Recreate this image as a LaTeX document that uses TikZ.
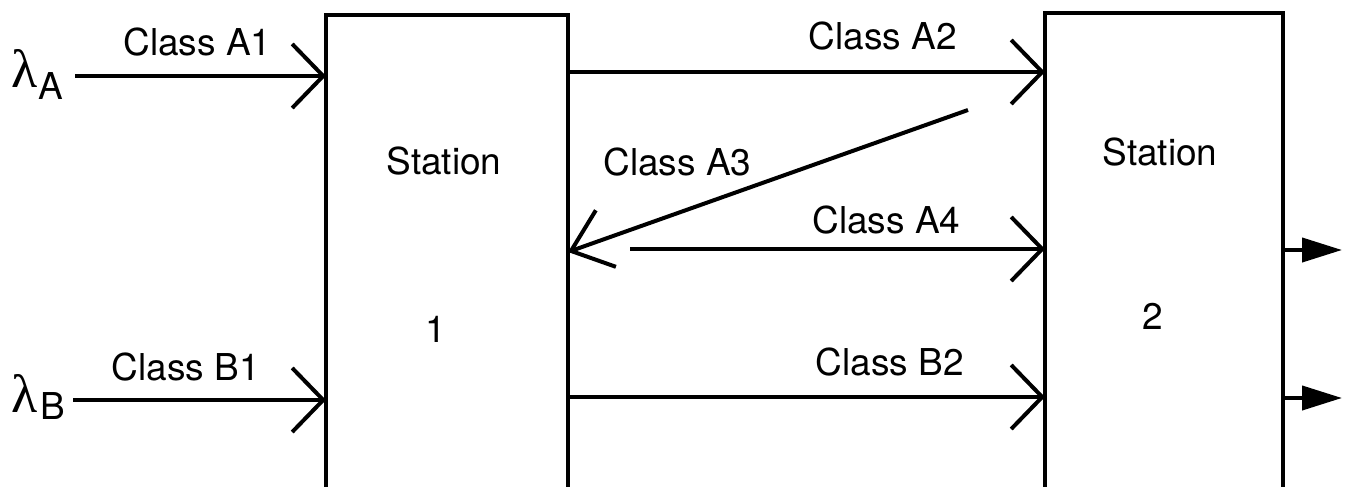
\documentclass[tikz,border=0pt]{standalone}
\usepackage{fontspec}
\setmainfont{TeX Gyre Heros}
\newfontfamily\rategreek{Liberation Serif}
\usetikzlibrary{arrows.meta}
\begin{document}
\begin{tikzpicture}[x=1pt,y=-1pt,
  line width=4pt,
  station/.style={draw, line width=3.4pt, inner sep=0pt, outer sep=0pt},
  lbl/.style={anchor=base, inner sep=0pt, font=\fontsize{37}{40}\selectfont},
  rate/.style={anchor=base west, inner sep=0pt, font=\fontsize{37}{40}\selectfont},
  feed/.style={-{Straight Barb[length=31pt,width=64pt]}},
  ret/.style={-{Straight Barb[length=37pt,width=60pt]}},
  leave/.style={-{Triangle[length=40pt,width=24pt]}}]
\useasboundingbox (0,0) rectangle (1347,487);
\clip (0,0) rectangle (1347,487);

% the two stations
\node[station, minimum width=242pt, minimum height=475pt] (s1) at (447,252.5) {};
\node[station, minimum width=238pt, minimum height=477pt] (s2) at (1164,251.5) {};

% levels and free ends of the flows
\coordinate (yA2) at (0,72);
\coordinate (yA3) at (0,252);
\coordinate (yB2) at (0,397);
\coordinate (inA) at (75,76);
\coordinate (inB) at (73,400);
\coordinate (a3from) at (968,110);
\coordinate (a4from) at (630,249);
\coordinate (outA) at (1342,250);
\coordinate (outB) at (1342,398);

% flows
\draw[feed] (inA) -- (inA -| s1.west);
\draw[feed] (inB) -- (inB -| s1.west);
\draw[feed] (s1.east |- yA2) -- (s2.west |- yA2);
\draw[ret] (a3from) -- (s1.east |- yA3);
\draw[feed] (a4from) -- (a4from -| s2.west);
\draw[feed] (s1.east |- yB2) -- (s2.west |- yB2);
\draw[leave] (s2.east |- outA) -- (outA);
\draw[leave] (s2.east |- outB) -- (outB);

% arrival rates
\node[rate] (lamA) at (9,88) {{\rategreek\fontsize{54}{56}\selectfont λ}\kern1pt\raisebox{-12pt}{A}};
\node[rate] (lamB) at (9,412) {{\rategreek\fontsize{54}{56}\selectfont λ}\kern3pt\raisebox{-7pt}{B}};

% class labels
\node[lbl] (cA1) at (197.5,56) {Class A1};
\node[lbl] (cB1) at (186,380) {Class B1};
\node[lbl] (cA2) at (883,50) {Class A2};
\node[lbl] (cA3) at (677.5,175) {Class A3};
\node[lbl] (cA4) at (886.5,233) {Class A4};
\node[lbl] (cB2) at (890,375) {Class B2};

% station labels
\node[lbl] (st1) at (444,174) {Station};
\node[lbl] (n1) at (436,342) {1};
\node[lbl] (st2) at (1160,165) {Station};
\node[lbl] (n2) at (1153,329) {2};
\end{tikzpicture}
\end{document}
